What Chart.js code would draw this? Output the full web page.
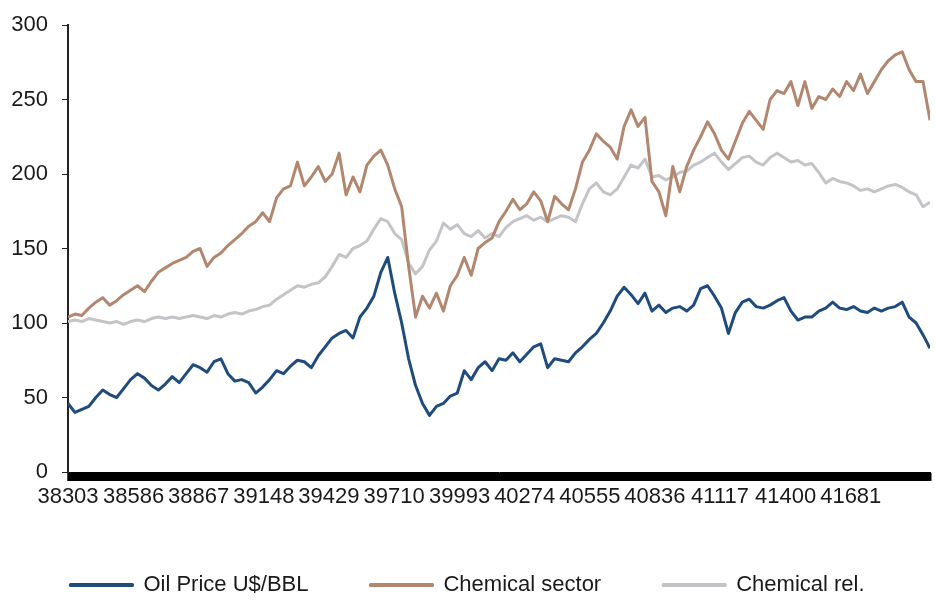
<!DOCTYPE html>
<html>
<head>
<meta charset="utf-8">
<title>Oil price vs chemical sector</title>
<script src="https://cdn.jsdelivr.net/npm/chart.js@4"></script>
<style>
  html, body { margin: 0; padding: 0; background: #fff; }
  canvas { display: block; }
</style>
</head>
<body>
<canvas id="oilChemChart" width="935" height="603"></canvas>
<script>
// Excel date serials, one sample roughly every month
const dates = [
  38303, 38333, 38363, 38393, 38423, 38453, 38483, 38513, 38543, 38573,
  38603, 38633, 38663, 38693, 38723, 38753, 38783, 38813, 38843, 38873,
  38903, 38933, 38963, 38993, 39023, 39053, 39083, 39113, 39143, 39173,
  39203, 39233, 39263, 39293, 39323, 39353, 39383, 39413, 39443, 39473,
  39503, 39533, 39563, 39593, 39623, 39653, 39683, 39713, 39743, 39773,
  39803, 39833, 39863, 39893, 39923, 39953, 39983, 40013, 40043, 40073,
  40103, 40133, 40163, 40193, 40223, 40253, 40283, 40313, 40343, 40373,
  40403, 40433, 40463, 40493, 40523, 40553, 40583, 40613, 40643, 40673,
  40703, 40733, 40763, 40793, 40823, 40853, 40883, 40913, 40943, 40973,
  41003, 41033, 41063, 41093, 41123, 41153, 41183, 41213, 41243, 41273,
  41303, 41333, 41363, 41393, 41423, 41453, 41483, 41513, 41543, 41573,
  41603, 41633, 41663, 41693, 41723, 41753, 41783, 41813, 41843, 41873,
  41903, 41933, 41963, 41993, 42023
];

// Oil Price U$/BBL
const oilPrice = [
  46, 40, 42, 44, 50, 55, 52, 50, 56, 62,
  66, 63, 58, 55, 59, 64, 60, 66, 72, 70,
  67, 74, 76, 66, 61, 62, 60, 53, 57, 62,
  68, 66, 71, 75, 74, 70, 78, 84, 90, 93,
  95, 90, 104, 110, 118, 134, 144, 120, 100, 76,
  58, 46, 38, 44, 46, 51, 53, 68, 62, 70,
  74, 68, 76, 75, 80, 74, 79, 84, 86, 70,
  76, 75, 74, 80, 84, 89, 93, 100, 108, 118,
  124, 119, 113, 120, 108, 112, 107, 110, 111, 108,
  112, 123, 125, 118, 110, 93, 107, 114, 116, 111,
  110, 112, 115, 117, 108, 102, 104, 104, 108, 110,
  114, 110, 109, 111, 108, 107, 110, 108, 110, 111,
  114, 104, 100, 92, 83
];

// Chemical sector index
const chemSector = [
  104, 106, 105, 110, 114, 117, 112, 115, 119, 122,
  125, 121, 128, 134, 137, 140, 142, 144, 148, 150,
  138, 144, 147, 152, 156, 160, 165, 168, 174, 168,
  184, 190, 192, 208, 192, 198, 205, 195, 200, 214,
  186, 198, 188, 206, 212, 216, 206, 190, 178, 138,
  104, 118, 110, 120, 108, 125, 132, 144, 132, 150,
  154, 157, 168, 175, 183, 176, 180, 188, 182, 168,
  185, 180, 176, 190, 208, 216, 227, 222, 218, 210,
  232, 243, 232, 238, 195, 188, 172, 205, 188, 205,
  216, 225, 235, 227, 216, 210, 222, 234, 242, 236,
  230, 250, 256, 254, 262, 246, 262, 244, 252, 250,
  257, 252, 262, 256, 267, 254, 262, 270, 276, 280,
  282, 270, 262, 262, 236
];

// Chemical sector relative to market
const chemRel = [
  101, 102, 101, 103, 102, 101, 100, 101, 99, 101,
  102, 101, 103, 104, 103, 104, 103, 104, 105, 104,
  103, 105, 104, 106, 107, 106, 108, 109, 111, 112,
  116, 119, 122, 125, 124, 126, 127, 131, 138, 146,
  144, 150, 152, 155, 163, 170, 168, 160, 156, 140,
  133, 138, 149, 155, 167, 163, 166, 160, 158, 162,
  157, 160, 158, 164, 168, 170, 172, 169, 171, 168,
  170, 172, 171, 168, 180, 190, 194, 188, 186, 190,
  198, 206, 204, 210, 198, 199, 196, 198, 201, 202,
  206, 208, 211, 214, 208, 203, 207, 211, 212, 208,
  206, 211, 214, 211, 208, 209, 206, 207, 201, 194,
  197, 195, 194, 192, 189, 190, 188, 190, 192, 193,
  191, 188, 186, 178, 181
];

// labelled dates on the x axis
const xTickLabels = [38303, 38586, 38867, 39148, 39429, 39710, 39993,
  40274, 40555, 40836, 41117, 41400, 41681];

const seriesNames = ['Oil Price U$/BBL', 'Chemical sector', 'Chemical rel.'];
const seriesColors = ['#1f4b7d', '#b3876f', '#c4c4c8'];

const fontFamily = "'Liberation Sans', Arial, sans-serif";

function toPoints(values) {
  return values.map((v, i) => ({ x: dates[i], y: v }));
}

const datasets = [oilPrice, chemSector, chemRel].map((values, i) => ({
  label: seriesNames[i],
  data: toPoints(values),
  borderColor: seriesColors[i],
  backgroundColor: seriesColors[i],
  borderWidth: 3,
  pointRadius: 0,
  tension: 0,
  borderJoinStyle: 'round'
}));

var ctx = document.getElementById('oilChemChart');

const config = {
  type: 'line',
  data: { datasets: datasets },
  options: {
    responsive: false,
    animation: false,
    layout: { padding: { top: 25, left: 0, right: 0, bottom: -3 } },
    plugins: {
      tooltip: { enabled: false },
      legend: {
        position: 'bottom',
        labels: {
          boxWidth: 62,
          boxHeight: 1,
          padding: 62,
          color: '#1a1a1a',
          font: { family: fontFamily, size: 22, lineHeight: 1 }
        }
      }
    },
    scales: {
      x: {
        type: 'linear',
        position: 'bottom',
        min: 38303,
        max: 42023,
        afterBuildTicks: (scale) => {
          // dense tick marks make the heavy black axis band
          const ticks = [];
          for (let v = scale.min; v <= scale.max; v += 4) {
            if (!xTickLabels.includes(v)) ticks.push({ value: v });
          }
          xTickLabels.forEach(v => ticks.push({ value: v }));
          ticks.sort((a, b) => a.value - b.value);
          scale.ticks = ticks;
        },
        afterFit: (scale) => { scale.height = 40; },
        grid: {
          drawOnChartArea: false,
          tickLength: 9,
          tickWidth: 2,
          color: '#000'
        },
        border: { color: '#000', width: 1 },
        ticks: {
          autoSkip: false,
          maxRotation: 0,
          padding: 5,
          color: '#1a1a1a',
          font: { family: fontFamily, size: 22, lineHeight: 1 },
          callback: (value) => xTickLabels.includes(value) ? String(value) : ''
        }
      },
      y: {
        min: 0,
        max: 300,
        afterFit: (scale) => { scale.width = 68; },
        grid: {
          drawOnChartArea: false,
          tickLength: 6,
          color: '#222'
        },
        border: { color: '#222', width: 2 },
        ticks: {
          stepSize: 50,
          padding: 14,
          color: '#1a1a1a',
          font: { family: fontFamily, size: 22, lineHeight: 1 }
        }
      }
    }
  }
};

const oilChemChart = new Chart(ctx, config);
</script>
</body>
</html>
